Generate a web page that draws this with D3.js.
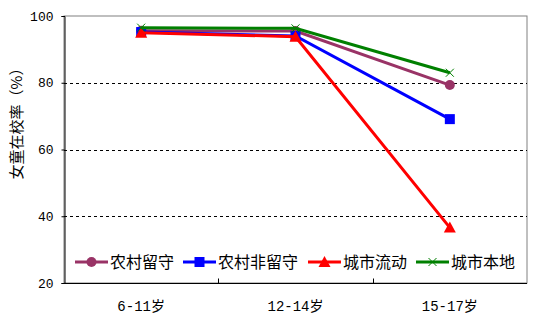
<!DOCTYPE html>
<html>
<head>
<meta charset="utf-8">
<script src="https://cdn.jsdelivr.net/npm/d3@7"></script>
<style>
  body { margin: 0; background: #fff; }
  svg text { font-family: "Liberation Mono", "Noto Sans CJK SC", monospace; fill: #000; }
</style>
</head>
<body>
<svg id="chart" width="533" height="324"></svg>
<script>
const categories = ["6-11岁", "12-14岁", "15-17岁"]
const seriesNames = ["农村留守", "农村非留守", "城市流动", "城市本地"]
const ruralLeftBehind = [95.6, 95.5, 79.3]
const ruralOther = [95.2, 94.0, 69.1]
const urbanMigrant = [95.0, 93.8, 36.6]
const urbanLocal = [96.5, 96.3, 83.0]
const yTicks = [20, 40, 60, 80, 100]
const yTitle = "女童在校率（%）"

const series = [
  { name: seriesNames[0], values: ruralLeftBehind, color: "#993366", marker: "circle" },
  { name: seriesNames[1], values: ruralOther, color: "#0000ff", marker: "square" },
  { name: seriesNames[2], values: urbanMigrant, color: "#ff0000", marker: "triangle" },
  { name: seriesNames[3], values: urbanLocal, color: "#008000", marker: "cross" }
]

const margin = { top: 16, right: 6, bottom: 41, left: 64 }
const width = 533 - margin.left - margin.right
const height = 324 - margin.top - margin.bottom

const svg = d3.select("#chart")
const g = svg.append("g")
  .attr("transform", "translate(" + margin.left + "," + margin.top + ")")

const x = d3.scaleBand().domain(categories).range([0, width])
const y = d3.scaleLinear().domain([20, 100]).range([height, 0])

// frame: gray top/right, black axes
g.append("rect")
  .attr("x", 0).attr("y", 0)
  .attr("width", width).attr("height", height)
  .attr("fill", "none").attr("stroke", "#808080").attr("stroke-width", 1)

// dashed gridlines
g.selectAll(".grid")
  .data(yTicks.filter(d => d > 20 && d < 100))
  .enter().append("line")
  .attr("x1", 0).attr("x2", width)
  .attr("y1", d => Math.round(y(d)) + 0.5).attr("y2", d => Math.round(y(d)) + 0.5)
  .attr("stroke", "#000").attr("stroke-dasharray", "3,3")

// y axis
const yAxis = g.append("g")
  .attr("transform", "translate(0.5,0)")
  .call(d3.axisLeft(y).tickValues(yTicks).tickSize(3).tickPadding(8))
yAxis.select(".domain").attr("stroke", "#000")
yAxis.selectAll("text").style("font-size", "13px")

// x axis with ticks between categories, pointing inwards
const xAxis = g.append("g")
  .attr("transform", "translate(0," + (Math.round(height) + 0.5) + ")")
xAxis.append("line")
  .attr("x1", 0).attr("x2", width).attr("stroke", "#000")
xAxis.selectAll(".sep")
  .data(categories.slice(1))
  .enter().append("line")
  .attr("x1", d => Math.round(x(d)) + 0.5).attr("x2", d => Math.round(x(d)) + 0.5)
  .attr("y1", 0).attr("y2", -5).attr("stroke", "#000")
xAxis.selectAll(".lab")
  .data(categories)
  .enter().append("text")
  .attr("x", d => x(d) + x.bandwidth() / 2)
  .attr("y", 27)
  .attr("text-anchor", "middle")
  .style("font-size", "14px")
  .text(d => d)

// y title
svg.append("text")
  .attr("transform", "translate(22," + (margin.top + 104) + ") rotate(-90)")
  .attr("text-anchor", "middle")
  .style("font-size", "15px")
  .style("font-family", "Noto Sans CJK SC")
  .text(yTitle)

const line = d3.line()
  .x((d, i) => x(categories[i]) + x.bandwidth() / 2)
  .y(d => y(d))

function drawMarker(sel, type, color) {
  if (type === "circle") {
    sel.append("circle").attr("r", 5).attr("fill", color)
  } else if (type === "square") {
    sel.append("rect").attr("x", -5).attr("y", -5).attr("width", 10).attr("height", 10).attr("fill", color)
  } else if (type === "triangle") {
    sel.append("path").attr("d", "M0,-6L6,5L-6,5Z").attr("fill", color)
  } else {
    sel.append("path").attr("d", "M-4,-4L4,4M-4,4L4,-4").attr("stroke", color).attr("stroke-width", 1).attr("fill", "none")
  }
}

series.forEach(s => {
  g.append("path")
    .datum(s.values)
    .attr("fill", "none")
    .attr("stroke", s.color)
    .attr("stroke-width", 3)
    .attr("d", line)
  s.values.forEach((v, i) => {
    const m = g.append("g")
      .attr("transform", "translate(" + (x(categories[i]) + x.bandwidth() / 2) + "," + y(v) + ")")
    drawMarker(m, s.marker, s.color)
  })
})

// legend
const legendX = [11, 119, 244, 352]
const legend = g.append("g").attr("transform", "translate(0," + (height - 21) + ")")
series.forEach((s, i) => {
  const item = legend.append("g").attr("transform", "translate(" + legendX[i] + ",0)")
  item.append("line").attr("x1", 0).attr("x2", 33).attr("stroke", s.color).attr("stroke-width", 3)
  const m = item.append("g").attr("transform", "translate(16.5,0)")
  drawMarker(m, s.marker, s.color)
  item.append("text")
    .attr("x", 35).attr("y", 6)
    .style("font-size", "16px")
    .style("font-family", "Noto Sans CJK SC")
    .text(s.name)
})
</script>
</body>
</html>
